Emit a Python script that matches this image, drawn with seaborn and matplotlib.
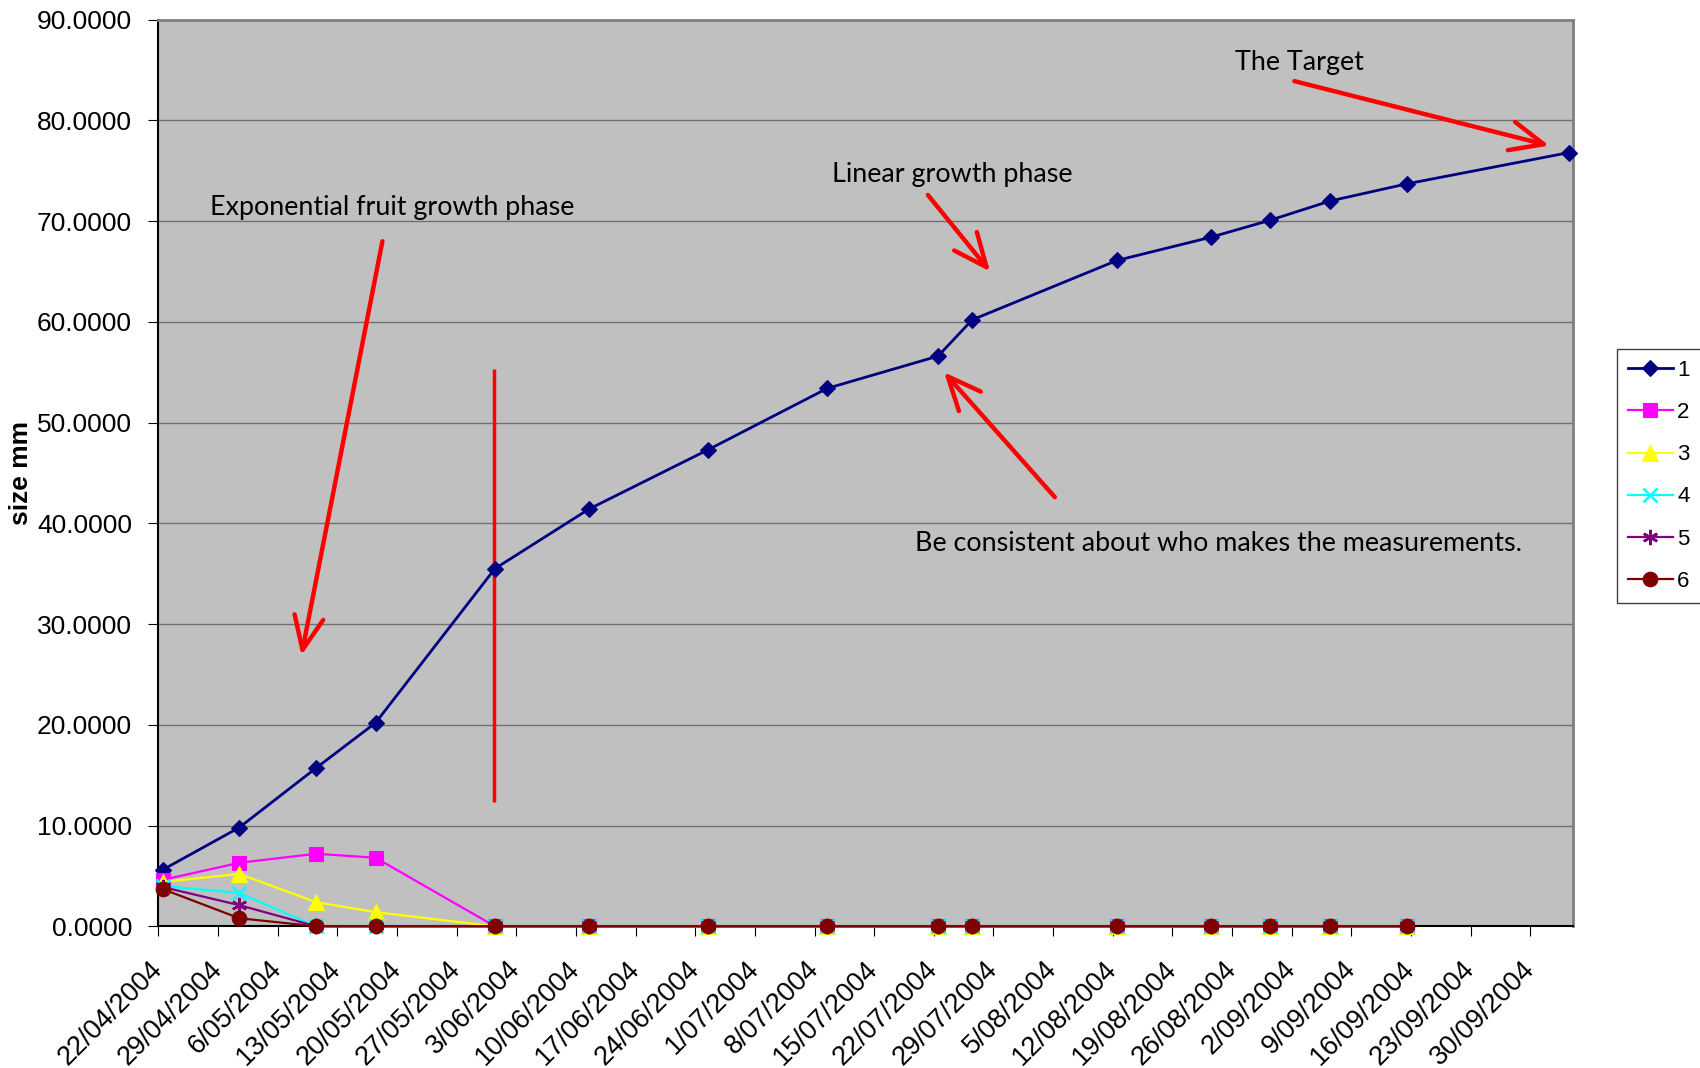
import numpy as np
import pandas as pd
import matplotlib
matplotlib.use("Agg")
import matplotlib.pyplot as plt
import seaborn as sns

plt.rcParams["font.family"] = ["Liberation Sans", "DejaVu Sans"]

# measurement dates and fruit sizes (mm) for the six tagged fruit
dates = ["22/04/2004", "1/05/2004", "10/05/2004", "17/05/2004", "31/05/2004",
         "11/06/2004", "25/06/2004", "9/07/2004", "22/07/2004", "26/07/2004",
         "12/08/2004", "23/08/2004", "30/08/2004", "6/09/2004", "15/09/2004",
         "4/10/2004"]
s1 = [5.6, 9.8, 15.7, 20.2, 35.5, 41.4, 47.3, 53.4, 56.6, 60.2, 66.1, 68.4, 70.1, 72.0, 73.7, 76.8]
s2 = [4.6, 6.3, 7.2, 6.8, 0, 0, 0, 0, 0, 0, 0, 0, 0, 0, 0, np.nan]
s3 = [4.4, 5.2, 2.4, 1.4, 0, 0, 0, 0, 0, 0, 0, 0, 0, 0, 0, np.nan]
s4 = [4.0, 3.3, 0, 0, 0, 0, 0, 0, 0, 0, 0, 0, 0, 0, 0, np.nan]
s5 = [3.9, 2.1, 0, 0, 0, 0, 0, 0, 0, 0, 0, 0, 0, 0, 0, np.nan]
s6 = [3.7, 0.8, 0, 0, 0, 0, 0, 0, 0, 0, 0, 0, 0, 0, 0, np.nan]
series_names = ["1", "2", "3", "4", "5", "6"]

colors = ["#000080", "#FF00FF", "#FFFF00", "#00FFFF", "#800080", "#800000"]
markers = ["D", "s", "^", "x", (6, 2, 0), "o"]
msizes = [8.5, 10, 11, 10, 11, 10.5]

start = pd.Timestamp(2004, 4, 22)
# Excel date axis: points sit in the middle of their day
x = pd.to_datetime(dates, dayfirst=True) + pd.Timedelta(hours=12)


def day(d):
    return start + pd.Timedelta(days=d)


fig = plt.figure(figsize=(17, 10.68), dpi=100)
ax = fig.add_axes([0.0931, 0.1327, 0.8322, 0.8489])
ax.set_facecolor("#C0C0C0")

for vals, name, c, m, ms in zip([s1, s2, s3, s4, s5, s6], series_names, colors, markers, msizes):
    sns.lineplot(x=x, y=vals, ax=ax, color=c, marker=m, markersize=ms,
                 mec=c, mew=1.8 if m in ("x", (6, 2, 0)) else 0.8,
                 lw=2 if name == "1" else 1.6, label=name, legend=False,
                 clip_on=False, zorder=3)

ax.set_xlim(start, day(166))
ax.set_ylim(0, 90)
ax.set_yticks(np.arange(0, 91, 10))
ax.yaxis.set_major_formatter(plt.FuncFormatter(lambda v, p: f"{v:.4f}"))
ticks = pd.date_range("2004-04-22", "2004-09-30", freq="7D")
ax.set_xticks(ticks)
ax.set_xticklabels([f"{t.day}/{t:%m/%Y}" for t in ticks], rotation=45,
                   ha="right", va="center", rotation_mode="anchor")
ax.tick_params(axis="x", labelsize=19.5, length=7, pad=21, direction="out")
ax.tick_params(axis="y", labelsize=19, length=7, pad=12, direction="out")
ax.grid(axis="y", color="#707070", lw=1)
ax.set_axisbelow(True)
ax.set_xlabel("")
ax.set_ylabel("size mm", fontsize=19, fontweight="bold")
ax.yaxis.set_label_coords(-0.0886, 0.5)

for s in ["left", "bottom"]:
    ax.spines[s].set_color("black")
    ax.spines[s].set_linewidth(1.5)
for s in ["top", "right"]:
    ax.spines[s].set_color("#808080")
    ax.spines[s].set_linewidth(2)

# annotations
tfont = dict(family=["Lato", "DejaVu Sans"], fontsize=19.4, color="black", va="baseline", ha="left")
ax.text(day(6.1), 70.6, "Exponential fruit growth phase", **tfont)
ax.text(day(79.1), 73.9, "Linear growth phase", **tfont)
ax.text(day(126.3), 85.0, "The Target", **tfont)
ax.text(day(88.8), 37.3, "Be consistent about who makes the measurements.", **tfont)

aprops = dict(arrowstyle="->,head_length=0.8,head_width=0.35", color="red", lw=3.2,
              mutation_scale=30, shrinkA=0, shrinkB=0)
for (x0, y0), (x1, y1) in [((26.3, 68.0), (16.8, 26.9)),
                           ((90.3, 72.6), (97.6, 65.0)),
                           ((133.3, 83.9), (163.2, 77.5)),
                           ((105.2, 42.6), (92.2, 55.0))]:
    ax.annotate("", xy=(day(x1), y1), xytext=(day(x0), y0), arrowprops=aprops)
ax.vlines(day(39.4), 12.3, 55.3, color="red", lw=2.5)

leg = ax.legend(loc="upper left", bbox_to_anchor=(0.9512, 0.6732), bbox_transform=fig.transFigure,
                fontsize=16, frameon=True, fancybox=False, edgecolor="#404040", framealpha=1,
                handlelength=2.0, labelspacing=0.95, borderpad=0.5, handletextpad=0.2,
                borderaxespad=0, numpoints=1)
leg.get_frame().set_linewidth(1)

fig.savefig("out.png", dpi=100)
